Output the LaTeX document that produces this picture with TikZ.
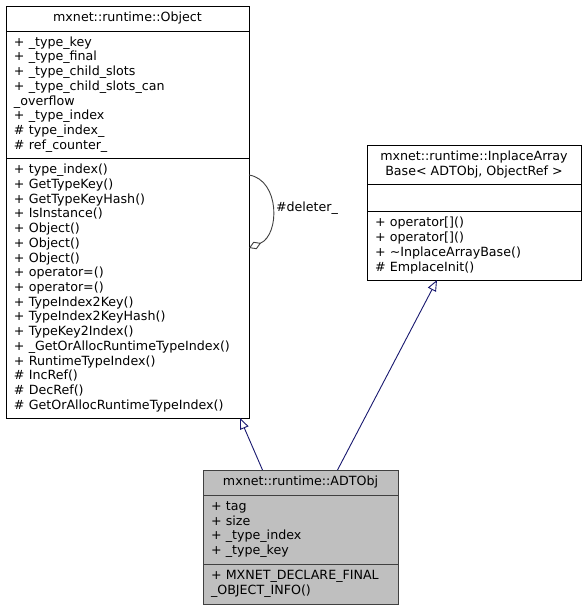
\documentclass[tikz,border=0pt]{standalone}
\usepackage{fontspec}
\setmainfont{DejaVu Sans}
\usetikzlibrary{arrows.meta,positioning}
\definecolor{edgeblue}{HTML}{191970}
\definecolor{edgegray}{HTML}{404040}
\definecolor{curfill}{HTML}{BFBFBF}

\begin{document}
\begin{tikzpicture}[
  x=1bp, y=-1bp,
  line width=0.9bp,
  font=\fontsize{12.7}{14.8}\selectfont,
  clshead/.style={rectangle,draw,outer sep=0pt,inner sep=2bp,align=center,fill=white},
  clsbody/.style={rectangle,draw,outer sep=0pt,inner xsep=8bp,inner ysep=2bp,align=left,fill=white},
  cur/.style={draw=edgegray,fill=curfill},
  inherit/.style={draw=edgeblue,-{Triangle[open,length=11bp,width=9bp]}},
  member/.style={draw=edgegray,-{Diamond[open,length=13bp,width=8bp]}}
]
\path[use as bounding box,fill=white] (0,0) rectangle (586,611);

\node[clshead,minimum width=243bp,minimum height=25bp] (objtitle) at (127.5,18.5) {mxnet::runtime::Object};
\node[clsbody,text width=227bp,minimum height=127bp,below=0pt of objtitle] (objattr) {+ \_type\_key\\+ \_type\_final\\+ \_type\_child\_slots\\+ \_type\_child\_slots\_can\\\_overflow\\+ \_type\_index\\\# type\_index\_\\\# ref\_counter\_};
\node[clsbody,text width=227bp,minimum height=260bp,below=0pt of objattr] (objmeth) {+ type\_index()\\+ GetTypeKey()\\+ GetTypeKeyHash()\\+ IsInstance()\\+ Object()\\+ Object()\\+ Object()\\+ operator=()\\+ operator=()\\+ TypeIndex2Key()\\+ TypeIndex2KeyHash()\\+ TypeKey2Index()\\+ \_GetOrAllocRuntimeTypeIndex()\\+ RuntimeTypeIndex()\\\# IncRef()\\\# DecRef()\\\# GetOrAllocRuntimeTypeIndex()};

\node[clshead,minimum width=214bp,minimum height=39bp] (iabtitle) at (474,164.5) {mxnet::runtime::InplaceArray\\Base< ADTObj, ObjectRef >};
\node[clsbody,text width=198bp,minimum height=27bp,below=0pt of iabtitle] (iabattr) {};
\node[clsbody,text width=198bp,minimum height=69bp,below=0pt of iabattr] (iabmeth) {+ operator[]()\\+ operator[]()\\+ \textasciitilde InplaceArrayBase()\\\# EmplaceInit()};

\node[clshead,cur,minimum width=195bp,minimum height=25bp] (adttitle) at (300.5,482.5) {mxnet::runtime::ADTObj};
\node[clsbody,cur,text width=179bp,minimum height=69bp,below=0pt of adttitle] (adtattr) {+ tag\\+ size\\+ \_type\_index\\+ \_type\_key};
\node[clsbody,cur,text width=179bp,minimum height=40bp,below=0pt of adtattr] (adtmeth) {+ MXNET\_DECLARE\_FINAL\\\_OBJECT\_INFO()};

\draw[inherit] ([xshift=-38bp]adttitle.north) -- ([xshift=112.5bp]objmeth.south);
\draw[inherit] ([xshift=37bp]adttitle.north) -- ([xshift=-37bp]iabmeth.south);
\draw[member] ([yshift=-17bp]objmeth.north east) .. controls +(31,5) and +(31,-13) .. ([yshift=-90bp]objmeth.north east) node[pos=0.5,right] {\#deleter\_};
\end{tikzpicture}
\end{document}
